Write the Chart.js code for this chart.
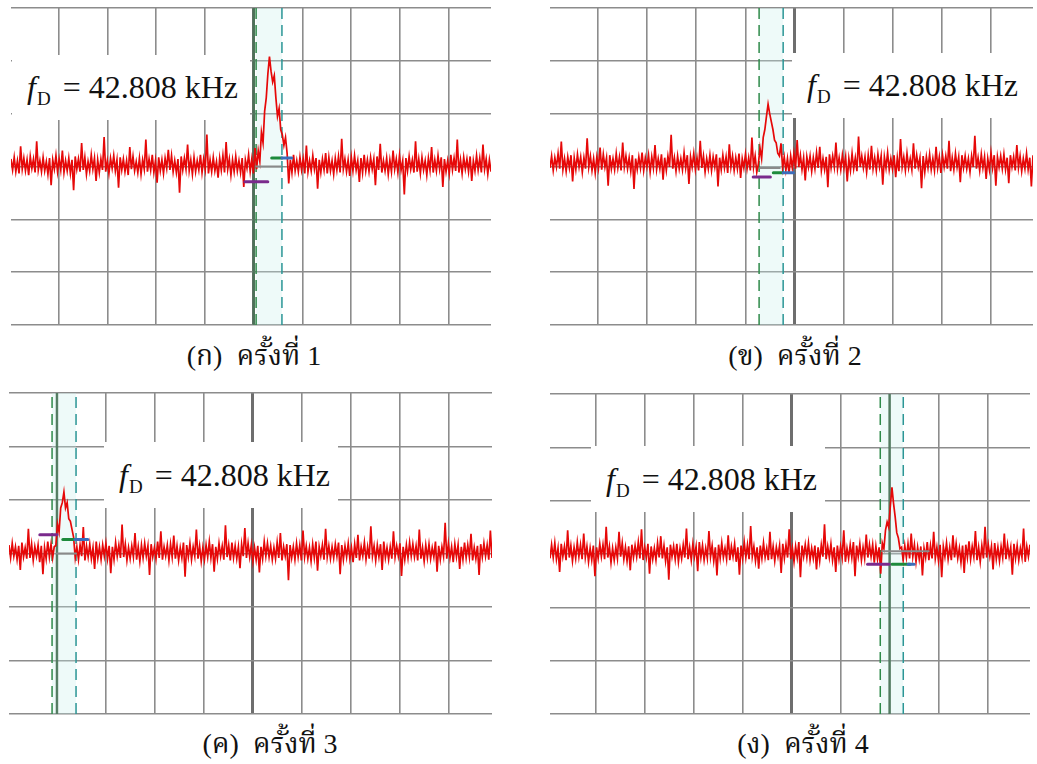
<!DOCTYPE html>
<html>
<head>
<meta charset="utf-8">
<script src="https://cdn.jsdelivr.net/npm/chart.js@4.4.1/dist/chart.umd.min.js"></script>
<style>
  body { margin: 0; background: #fff; }
  #page { position: relative; width: 1037px; height: 764px; overflow: hidden; background: #fff; }
  #page canvas { position: absolute; }
  .tag {
    position: absolute; background: #fff; box-sizing: border-box;
    font-family: "Liberation Serif", "Times New Roman", serif; font-size: 32px;
    color: #111; white-space: nowrap; padding-left: 15px;
  }
  .tag i { margin-right: 1px; }
  .tag sub { font-size: 19px; vertical-align: -7px; line-height: 0; margin-right: 4px; }
  .cap {
    position: absolute; width: 320px; text-align: center; color: #111;
    font-family: "Liberation Serif", "Noto Serif Thai", "Noto Sans Thai", serif; font-size: 28px;
    line-height: 40px; white-space: nowrap;
  }
</style>
</head>
<body>
<div id="page">
  <canvas id="c1"></canvas>
  <canvas id="c2"></canvas>
  <canvas id="c3"></canvas>
  <canvas id="c4"></canvas>
</div>
<script>
// Spectrum traces, four runs. Noise samples are in screen units of
// NOISE_UNIT divisions around each run's floor level; peaks are in divisions.
const NOISE_UNIT = 0.016;
const floorLevel = [3.03, 3.07, 3.03, 3.03];

const noise1 = [
  7,-6,9,-8,5,-10,22,-5,8,-7,6,-12,10,-4,7,-9,28,-6,5,-8,
  9,-7,4,-11,8,-24,6,-5,11,-8,7,-6,17,-9,5,-7,8,-10,6,-30,
  10,-5,7,-8,26,-6,9,-11,4,-7,12,-5,8,-19,6,-9,7,-6,33,-8,
  5,-10,8,-4,11,-7,6,-27,9,-6,7,-8,5,-12,21,-5,10,-7,4,-9,
  8,-11,6,-5,30,-8,7,-6,12,-9,5,-21,9,-7,6,-10,8,-4,18,-6,
  11,-8,5,-9,7,-33,10,-6,8,-5,24,-7,6,-11,9,-8,5,-6,12,-9,
  7,-5,36,-10,6,-8,9,-7,4,-15,8,-6,11,-9,27,-5,7,-12,6,-8,
  10,-7,5,-9,8,-26,6,-4,12,-8,7,-10,20,-6,9,-7,5,-11,8,-5,
  6,-9,11,-7,4,-8,29,-6,10,-12,7,-5,8,-22,6,-9,12,-7,5,-8,
  9,-6,7,-10,23,-8,5,-7,11,-5,8,-28,6,-9,7,-6,14,-10,9,-7,
  5,-11,8,-6,10,-9,31,-5,7,-8,6,-13,9,-7,11,-6,5,-20,8,-9,
  12,-7,6,-8,9,-5,7,-24,10,-6,25,-9,5,-7,8,-11,6,-8,17,-5,
  7,-9,11,-6,5,-35,8,-7,10,-5,6,-9,28,-8,7,-10,9,-6,5,-12,
  8,-6,21,-9,6,-7,11,-5,9,-26,7,-8,5,-10,12,-6,8,-7,30,-9,
  6,-10,9,-5,7,-8,10,-19,5,-7,11,-6,8,-9,24,-5,7,-11,6,-8
];
const noise2 = [
  -6,8,-9,6,-5,11,-7,25,-8,5,-10,7,-6,9,-22,6,-8,10,-5,7,
  -11,6,-7,29,-5,8,-9,5,-12,7,-6,18,-8,10,-5,6,-27,9,-7,5,
  -8,11,-6,7,-9,24,-5,8,-7,6,-10,9,-31,5,-8,7,-6,12,-9,6,
  -5,9,-11,7,-6,21,-8,5,-7,10,-20,6,-9,8,-5,33,-7,6,-10,8,
  -7,5,-8,12,-6,9,-25,7,-5,11,-8,6,-9,26,-6,8,-11,5,-7,9,
  -9,7,-5,10,-28,6,-8,9,-6,7,-12,22,-5,8,-9,6,-7,11,-18,5,
  -6,10,-7,6,-9,30,-5,8,-11,7,-6,9,-8,5,-24,10,-7,6,-5,12,
  -10,6,-8,23,-6,7,-9,5,-13,8,-6,11,-7,27,-5,9,-8,6,-21,7,
  -5,8,-10,6,-7,12,-6,19,-9,5,-8,7,-29,10,-6,8,-5,24,-7,6,
  -8,9,-6,7,-22,5,-9,11,-7,6,-10,31,-5,8,-6,7,-11,9,-8,20,
  -7,6,-9,10,-5,8,-26,7,-6,12,-8,5,-7,9,-17,6,-10,28,-5,7,
  -9,11,-6,5,-8,23,-7,9,-5,6,-30,8,-11,7,-6,10,-8,5,-9,19,
  -6,7,-12,9,-5,8,-7,26,-10,6,-8,11,-5,7,-23,9,-6,8,-7,5,
  -11,8,-5,32,-7,6,-9,10,-6,7,-19,5,-8,12,-6,9,-27,7,-5,8,
  -7,10,-8,6,-24,9,-5,7,-9,21,-6,8,-10,5,-7,11,-8,6,-28,9
];
const noise3 = [
  8,-7,10,-5,6,-9,7,-21,11,-6,5,-8,27,-7,9,-10,6,-5,8,-12,
  7,-26,5,-8,12,-6,9,-7,6,-11,23,-5,8,-9,7,-6,10,-30,5,-8,
  11,-7,6,-9,8,-5,29,-10,7,-6,9,-8,5,-20,12,-7,6,-9,8,-5,
  10,-8,7,-25,6,-9,11,-5,8,-7,32,-6,9,-10,5,-8,7,-6,22,-9,
  6,-11,8,-7,10,-5,7,-27,9,-6,5,-8,12,-7,24,-9,6,-5,8,-10,
  9,-6,19,-8,7,-10,5,-7,11,-29,8,-6,10,-9,6,-5,26,-8,7,-11,
  5,-9,8,-6,12,-7,9,-23,6,-8,10,-5,7,-9,31,-6,8,-10,11,-7,
  7,-8,6,-19,9,-5,28,-7,10,-6,8,-11,5,-9,7,-24,6,-8,12,-5,
  10,-6,7,-9,5,-8,11,-7,22,-10,6,-5,9,-33,8,-7,6,-9,10,-6,
  8,-10,25,-6,7,-8,5,-11,9,-7,12,-22,6,-5,8,-9,27,-6,7,-8,
  6,-7,9,-5,11,-26,8,-9,7,-6,10,-8,5,-12,9,-7,20,-10,6,-5,
  11,-9,6,-8,30,-5,7,-10,8,-6,9,-21,12,-7,5,-9,6,-8,24,-6,
  7,-5,10,-28,6,-9,8,-7,11,-5,9,-6,7,-10,26,-8,5,-11,8,-7,
  9,-8,5,-6,12,-23,7,-9,6,-5,34,-8,10,-7,6,-12,9,-6,8,-20,
  6,-9,11,-7,8,-6,21,-10,5,-8,7,-27,9,-6,10,-5,8,-9,25,-7
];
const noise4 = [
  -7,9,-6,11,-8,5,-23,10,-5,7,-9,26,-6,8,-10,6,-7,12,-5,9,
  -8,22,-6,7,-11,5,-9,8,-28,6,-7,10,-5,9,-8,30,-6,7,-12,5,
  -9,6,-7,24,-5,11,-8,6,-10,7,-21,9,-6,8,-5,12,-7,27,-9,6,
  -6,10,-25,7,-8,5,-9,11,-6,19,-7,8,-10,6,-32,9,-5,7,-8,10,
  -11,5,-7,9,-6,28,-8,6,-9,10,-5,7,-22,12,-6,8,-9,5,-7,25,
  -5,8,-10,6,-27,9,-7,11,-6,5,-8,20,-9,7,-5,10,-11,6,-26,8,
  -7,12,-6,9,-8,31,-5,7,-10,6,-19,8,-7,11,-6,5,-9,24,-8,7,
  -10,6,-5,8,-24,10,-7,9,-6,27,-8,5,-11,7,-6,12,-29,8,-5,9,
  -6,11,-9,5,-7,8,-20,6,-10,9,-5,33,-8,7,-6,10,-9,6,-23,8,
  -8,7,-6,26,-11,5,-7,9,-6,12,-28,8,-5,10,-9,6,-7,21,-6,9,
  -5,9,-12,7,-8,6,-25,11,-6,8,-7,5,-9,30,-5,10,-8,7,-21,6,
  -9,8,-6,10,-7,22,-5,9,-11,6,-8,7,-27,5,-6,12,-9,8,-7,24,
  -7,6,-10,9,-29,7,-5,11,-8,6,-9,20,-6,10,-7,5,-12,8,-24,9,
  -6,13,-8,7,-5,25,-9,6,-11,8,-7,30,-6,9,-5,7,-20,11,-8,6,
  -10,7,-6,22,-8,9,-5,6,-26,10,-7,8,-9,5,-6,28,-11,7,-5,9
];

// Peak samples (divisions) and the frequency division where each peak starts
const peak1 = [2.95, 3.3, 3.1, 3.65, 3.45, 4.05, 4.3, 4.75, 5.08, 4.8, 4.6, 4.72, 4.3, 3.95, 4.1, 3.7, 3.6, 3.4, 3.55, 3.25];
const peak2 = [3.05, 3.35, 3.15, 3.55, 3.7, 3.95, 4.18, 4.0, 3.85, 3.7, 3.5, 3.45, 3.25, 3.2];
const peak3 = [3.15, 3.55, 3.4, 3.85, 3.95, 4.15, 3.85, 3.95, 3.65, 3.6, 3.45, 3.3];
const peak4 = [3.1, 3.45, 3.6, 3.5, 3.9, 4.25, 3.95, 3.7, 3.4, 3.3, 3.1];
const peakStart = [5.045, 4.28, 0.98, 6.89];

// Cursor positions: [solid, green dashed, teal dashed]; null = not shown
const cursors = [
  [5.0, 5.05, 5.58],
  [null, 4.28, 4.77],
  [1.0, 0.9, 1.39],
  [7.0, 6.81, 7.28]
];

// Marker bars: [x from, x to, level]
const purpleMark = [[4.82, 5.29, 2.71], [4.16, 4.51, 2.8], [0.65, 1.0, 3.35], [6.55, 6.99, 2.81]];
const greenMark  = [[5.37, 5.58, 3.16], [4.57, 4.77, 2.88], [1.12, 1.37, 3.26], [7.05, 7.42, 2.81]];
const blueMark   = [[5.58, 5.78, 3.16], [4.77, 4.98, 2.88], [1.37, 1.63, 3.26], [7.38, 7.5, 2.81]];
const grayMark   = [[5.05, 5.56, 3.0], [4.3, 4.7, 2.97], [1.0, 1.39, 3.0], [6.85, 7.8, 3.05]];

const runTags = ['(ก)', '(ข)', '(ค)', '(ง)'];
const runText = ['ครั้งที่ 1', 'ครั้งที่ 2', 'ครั้งที่ 3', 'ครั้งที่ 4'];
const dopplerText = '42.808 kHz';

// Layout: plot box in page pixels, visible division range, label box, caption centre
const PAD = 4;
const layout = [
  { box: [11, 8, 491, 325],  xr: [0.02, 9.87], tag: [12, 55, 238, 65],  cap: [254, 336] },
  { box: [550, 8, 1033, 325], xr: [0.02, 9.86], tag: [792, 53, 245, 65], cap: [795, 336] },
  { box: [9, 393, 492, 714],  xr: [0.02, 9.89], tag: [104, 442, 234, 66], cap: [270, 724] },
  { box: [550, 394, 1030, 714], xr: [0.06, 9.87], tag: [591, 446, 234, 66], cap: [803, 724] }
];

const noises = [noise1, noise2, noise3, noise4];
const peaks = [peak1, peak2, peak3, peak4];

function buildTrace(p) {
  const noise = noises[p], peak = peaks[p];
  const [xmin, xmax] = layout[p].xr;
  const step = (xmax - xmin) / (noise.length - 1);
  const k0 = Math.round((peakStart[p] - xmin) / step);
  return noise.map((n, i) => {
    const k = i - k0;
    const y = (k >= 0 && k < peak.length) ? peak[k] : floorLevel[p] + n * NOISE_UNIT;
    return { x: xmin + i * step, y: y };
  });
}

function vline(x, color, dash, width) {
  return {
    data: [{ x: x, y: 0 }, { x: x, y: 6 }],
    borderColor: color, borderWidth: width, borderDash: dash, order: 8
  };
}

function bar(m, color, width, order) {
  return {
    data: [{ x: m[0], y: m[2] }, { x: m[1], y: m[2] }],
    borderColor: color, borderWidth: width, borderCapStyle: 'round', order: order
  };
}

function makePanel(p) {
  const L = layout[p];
  const [x0, y0, x1, y1] = L.box;
  const cv = document.getElementById('c' + (p + 1));
  cv.width = x1 - x0 + PAD * 2;
  cv.height = y1 - y0 + PAD * 2;
  cv.style.left = (x0 - PAD) + 'px';
  cv.style.top = (y0 - PAD) + 'px';

  const [solid, gDash, tDash] = cursors[p];
  const datasets = [
    // shaded band between the two cursors
    {
      data: [{ x: gDash, y: 6 }, { x: tDash, y: 6 }],
      borderWidth: 0, fill: 'start', backgroundColor: 'rgba(200,238,234,0.3)', order: 10
    },
    vline(gDash, '#2f8a4a', [11, 6], 1.5),
    vline(tDash, '#2b9696', [11, 6], 1.5),
    {
      data: buildTrace(p),
      borderColor: '#e60808', borderWidth: 1.7, order: 5
    },
    bar(grayMark[p], '#8a8a8a', 2, 4),
    bar(purpleMark[p], '#7a2a8c', 3, 1),
    bar(greenMark[p], '#1d8a3c', 3, 2),
    bar(blueMark[p], '#3b6dbb', 3, 1)
  ];
  if (solid !== null) datasets.push(vline(solid, 'rgba(70,115,85,0.85)', [], 2.5));

  const gridOpts = (isX) => ({
    drawTicks: false,
    color: (c) => (isX && c.tick && c.tick.value === 5) ? '#6e6e6e' : '#8c8c8c',
    lineWidth: (c) => (isX && c.tick && c.tick.value === 5) ? 3 : 1.6
  });

  new Chart(cv, {
    type: 'scatter',
    data: { datasets: datasets },
    options: {
      responsive: false,
      animation: false,
      devicePixelRatio: 1,
      showLine: true,
      layout: { padding: PAD },
      elements: { point: { radius: 0, hoverRadius: 0 }, line: { tension: 0 } },
      plugins: { legend: { display: false }, tooltip: { enabled: false } },
      events: [],
      scales: {
        x: {
          type: 'linear', min: L.xr[0], max: L.xr[1],
          ticks: { display: false, stepSize: 1, includeBounds: false },
          grid: gridOpts(true),
          border: { display: false }
        },
        y: {
          type: 'linear', min: 0, max: 6,
          ticks: { display: false, stepSize: 1 },
          grid: gridOpts(false),
          border: { display: false }
        }
      }
    }
  });

  // frequency label box
  const page = document.getElementById('page');
  const tag = document.createElement('div');
  tag.className = 'tag';
  const [tx, ty, tw, th] = L.tag;
  tag.style.left = tx + 'px';
  tag.style.top = ty + 'px';
  tag.style.width = tw + 'px';
  tag.style.height = th + 'px';
  tag.style.lineHeight = th + 'px';
  tag.innerHTML = '<i>f</i><sub>D</sub> = ' + dopplerText;
  page.appendChild(tag);

  // caption under the plot
  const cap = document.createElement('div');
  cap.className = 'cap';
  cap.style.left = (L.cap[0] - 160) + 'px';
  cap.style.top = L.cap[1] + 'px';
  cap.textContent = runTags[p] + '\u00a0 ' + runText[p];
  page.appendChild(cap);
}

for (let p = 0; p < 4; p++) makePanel(p);
</script>
</body>
</html>
